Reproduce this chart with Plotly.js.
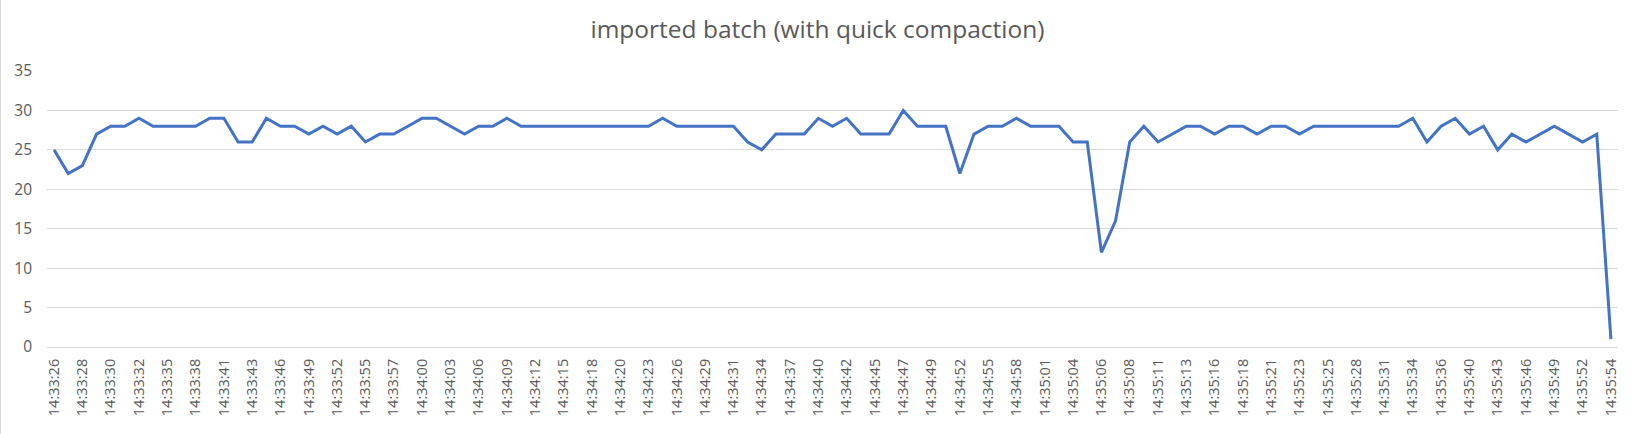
<!DOCTYPE html>
<html>
<head>
<meta charset="utf-8">
<script src="https://cdn.plot.ly/plotly-3.0.1.min.js"></script>
<style>
  html, body { margin: 0; padding: 0; background: #ffffff; }
  #chart { width: 1634px; height: 434px; box-sizing: border-box; border-left: 1px solid #d9d9d9; }
</style>
</head>
<body>
<div id="chart"></div>
<script>
const chartTitle = "imported batch (with quick compaction)";

const times = [
  "14:33:26","14:33:27","14:33:28","14:33:29","14:33:30","14:33:31","14:33:32","14:33:33","14:33:35","14:33:36",
  "14:33:38","14:33:39","14:33:41","14:33:42","14:33:43","14:33:44","14:33:46","14:33:47","14:33:49","14:33:50",
  "14:33:52","14:33:53","14:33:55","14:33:56","14:33:57","14:33:58","14:34:00","14:34:01","14:34:03","14:34:04",
  "14:34:06","14:34:07","14:34:09","14:34:10","14:34:12","14:34:13","14:34:15","14:34:16","14:34:18","14:34:19",
  "14:34:20","14:34:21","14:34:23","14:34:24","14:34:26","14:34:27","14:34:29","14:34:30","14:34:31","14:34:32",
  "14:34:34","14:34:35","14:34:37","14:34:38","14:34:40","14:34:41","14:34:42","14:34:43","14:34:45","14:34:46",
  "14:34:47","14:34:48","14:34:49","14:34:50","14:34:52","14:34:53","14:34:55","14:34:56","14:34:58","14:34:59",
  "14:35:01","14:35:02","14:35:04","14:35:05","14:35:06","14:35:07","14:35:08","14:35:09","14:35:11","14:35:12",
  "14:35:13","14:35:14","14:35:16","14:35:17","14:35:18","14:35:19","14:35:21","14:35:22","14:35:23","14:35:24",
  "14:35:25","14:35:26","14:35:28","14:35:29","14:35:31","14:35:32","14:35:34","14:35:35","14:35:36","14:35:38",
  "14:35:40","14:35:41","14:35:43","14:35:44","14:35:46","14:35:47","14:35:49","14:35:50","14:35:52","14:35:53",
  "14:35:54"
];

const batchSizes = [
  25,22,23,27,28,28,29,28,28,28,
  28,29,29,26,26,29,28,28,27,28,
  27,28,26,27,27,28,29,29,28,27,
  28,28,29,28,28,28,28,28,28,28,
  28,28,28,29,28,28,28,28,28,26,
  25,27,27,27,29,28,29,27,27,27,
  30,28,28,28,22,27,28,28,29,28,
  28,28,26,26,12,16,26,28,26,27,
  28,28,27,28,28,27,28,28,27,28,
  28,28,28,28,28,28,29,26,28,29,
  27,28,25,27,26,27,28,27,26,27,
  1
];

const tickLabels = [
  "14:33:26","14:33:28","14:33:30","14:33:32","14:33:35","14:33:38","14:33:41","14:33:43","14:33:46","14:33:49",
  "14:33:52","14:33:55","14:33:57","14:34:00","14:34:03","14:34:06","14:34:09","14:34:12","14:34:15","14:34:18",
  "14:34:20","14:34:23","14:34:26","14:34:29","14:34:31","14:34:34","14:34:37","14:34:40","14:34:42","14:34:45",
  "14:34:47","14:34:49","14:34:52","14:34:55","14:34:58","14:35:01","14:35:04","14:35:06","14:35:08","14:35:11",
  "14:35:13","14:35:16","14:35:18","14:35:21","14:35:23","14:35:25","14:35:28","14:35:31","14:35:34","14:35:36",
  "14:35:40","14:35:43","14:35:46","14:35:49","14:35:52","14:35:54"
];

const yTicks = [0, 5, 10, 15, 20, 25, 30, 35];

const trace = {
  type: "scatter",
  mode: "lines",
  x: times,
  y: batchSizes,
  line: { color: "#4472C4", width: 3, shape: "linear" },
  hoverinfo: "x+y"
};

const layout = {
  width: 1633,
  height: 434,
  margin: { l: 46, r: 16, t: 71, b: 87, pad: 0 },
  paper_bgcolor: "#ffffff",
  plot_bgcolor: "#ffffff",
  showlegend: false,
  font: { family: "Open Sans, sans-serif", color: "#595959", size: 14 },
  title: {
    text: chartTitle,
    x: 0.5, xanchor: "center",
    y: 1 - 29 / 434, yanchor: "middle", yref: "container",
    font: { family: "Open Sans, sans-serif", size: 24.5, color: "#595959" }
  },
  xaxis: {
    type: "category",
    categoryorder: "array",
    categoryarray: times,
    range: [-0.5, times.length - 0.5],
    tickmode: "array",
    tickvals: tickLabels,
    ticktext: tickLabels,
    tickangle: -90,
    ticks: "",
    ticklabelstandoff: 5,
    showgrid: false,
    showline: true,
    linecolor: "#d9d9d9",
    linewidth: 1,
    zeroline: false,
    tickfont: { family: "Open Sans, sans-serif", size: 14.5, color: "#595959" }
  },
  yaxis: {
    range: [0, 35],
    tickmode: "array",
    tickvals: yTicks,
    ticks: "",
    ticklabelstandoff: 14,
    showgrid: true,
    gridcolor: "#d9d9d9",
    gridwidth: 1,
    zeroline: false,
    showline: false,
    tickfont: { family: "Open Sans, sans-serif", size: 15.5, color: "#595959" }
  }
};

Plotly.newPlot("chart", [trace], layout, { staticPlot: true, displayModeBar: false });
</script>
</body>
</html>
